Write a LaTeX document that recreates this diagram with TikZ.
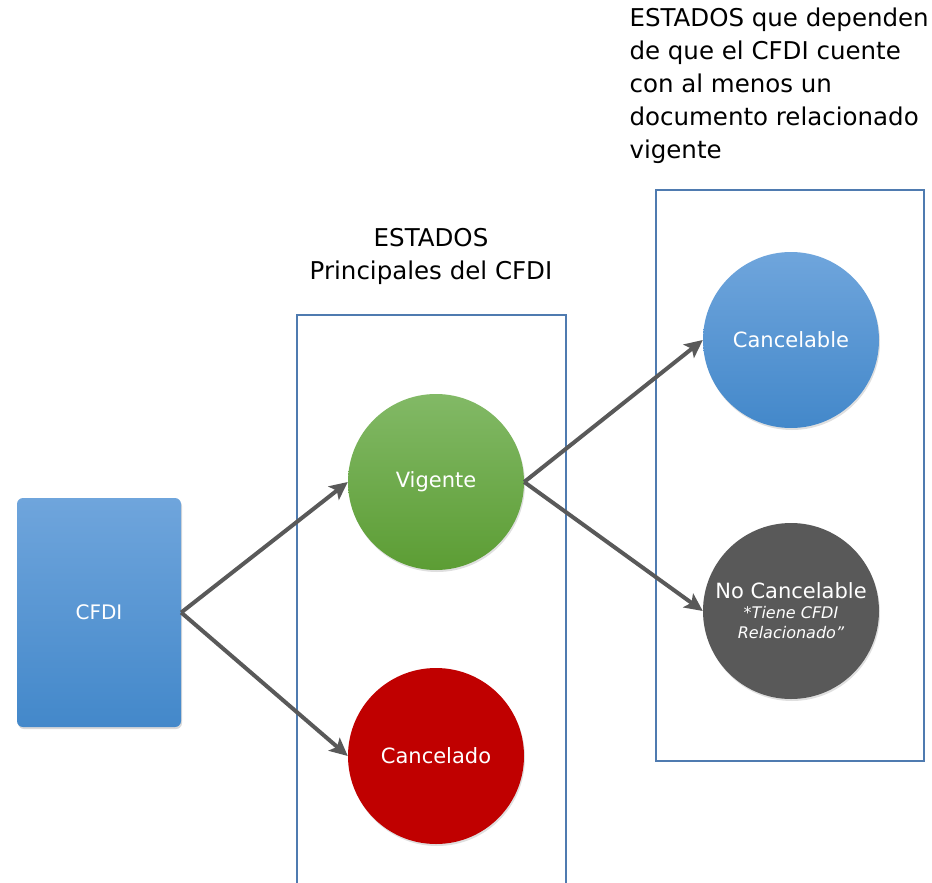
\documentclass[tikz,border=0pt]{standalone}
\usepackage{fontspec}
\setmainfont{DejaVu Sans}
\usetikzlibrary{arrows.meta,shadows}
\definecolor{boxline}{HTML}{4F7BB0}
\definecolor{arrowc}{HTML}{595959}
\definecolor{blueT}{HTML}{6FA5DC}
\definecolor{blueB}{HTML}{4388CA}
\definecolor{greenT}{HTML}{82B966}
\definecolor{greenB}{HTML}{5C9D34}
\definecolor{redc}{HTML}{C00000}
\definecolor{grayc}{HTML}{595959}
\tikzset{
  frame/.style={draw=boxline, line width=1.4pt},
  state/.style={circle, minimum size=176pt, inner sep=0pt, text=white, align=center,
     drop shadow={shadow xshift=1pt, shadow yshift=-2pt, opacity=0.25}},
  conn/.style={draw=arrowc, line width=4pt, -{Stealth[length=18pt,width=17pt,inset=4pt]}},
  title/.style={font=\fontsize{24.5}{33}\selectfont, align=center, text=black}
}
\begin{document}
\begin{tikzpicture}[x=1pt,y=-1pt]
\useasboundingbox (0,0) rectangle (932,883);
\draw[frame] (297,315) rectangle (566,890);
\draw[frame] (656,190) rectangle (924,761);
\node[title] (t1) at (431,256) {ESTADOS\\Principales del CFDI};
\node[title, align=left, anchor=north west] (t2) at (626,4) {ESTADOS que dependen\\de que el CFDI cuente\\con al menos un\\documento relacionado\\vigente};
\node[rounded corners=6pt, minimum width=164pt, minimum height=229pt, top color=blueT, bottom color=blueB,
  text=white, font=\fontsize{20}{24}\selectfont,
  drop shadow={shadow xshift=1pt, shadow yshift=-2pt, opacity=0.3}] (cfdi) at (99,612.5) {CFDI};
\node[state, top color=greenT, bottom color=greenB, font=\fontsize{21}{24}\selectfont] (vig) at (436,482) {Vigente};
\node[state, fill=redc, font=\fontsize{21}{24}\selectfont] (canc) at (436,756) {Cancelado};
\node[state, top color=blueT, bottom color=blueB, font=\fontsize{21}{24}\selectfont] (cab) at (791,340) {Cancelable};
\node[state, fill=grayc, font=\fontsize{21}{22}\selectfont] (nocab) at (791,611) {No Cancelable\\[-2pt]{\fontsize{16}{18}\selectfont\itshape *Tiene CFDI}\\[-2pt]{\fontsize{16}{18}\selectfont\itshape Relacionado''}};
\draw[conn] (cfdi.east) -- (vig.west);
\draw[conn] (cfdi.east) -- (canc.west);
\draw[conn] (vig.east) -- (cab.west);
\draw[conn] (vig.east) -- (nocab.west);
\end{tikzpicture}
\end{document}
